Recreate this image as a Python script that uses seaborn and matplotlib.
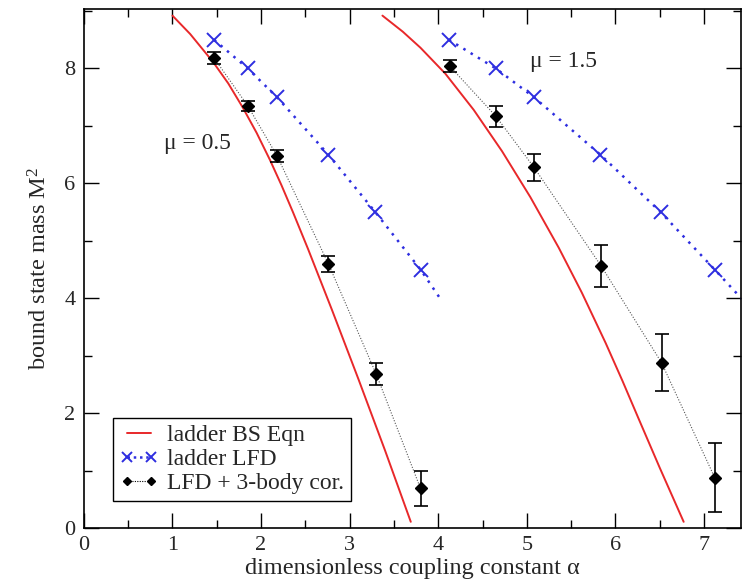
import numpy as np
import matplotlib
matplotlib.use("Agg")
import matplotlib.pyplot as plt
from matplotlib.lines import Line2D
from matplotlib.ticker import MultipleLocator
import seaborn as sns

sns.set_theme(style="ticks")
plt.rcParams['font.family'] = ['Liberation Serif', 'DejaVu Serif']
plt.rcParams['mathtext.fontset'] = 'stix'

# ladder BS equation (solid red)
bs05_x = [1.00, 1.20, 1.46, 1.63, 1.79, 1.95, 2.10, 2.23, 2.36, 2.53, 2.80, 3.10, 3.40, 3.69]
bs05_y = [8.92, 8.60, 8.11, 7.74, 7.33, 6.88, 6.41, 5.97, 5.50, 4.86, 3.80, 2.59, 1.35, 0.11]
bs15_x = [3.37, 3.60, 3.80, 4.08, 4.40, 4.72, 5.04, 5.36, 5.62, 5.89, 6.08, 6.26, 6.50, 6.77]
bs15_y = [8.92, 8.64, 8.36, 7.91, 7.28, 6.56, 5.76, 4.88, 4.10, 3.22, 2.56, 1.91, 1.05, 0.11]

# ladder LFD (blue crosses); last entry is the end of the dotted line
lfd05_x = [1.47, 1.85, 2.18, 2.76, 3.29, 3.80, 4.02]
lfd05_y = [8.5, 8.0, 7.5, 6.5, 5.5, 4.5, 4.0]
lfd15_x = [4.12, 4.65, 5.08, 5.83, 6.51, 7.12, 7.45]
lfd15_y = [8.5, 8.0, 7.5, 6.5, 5.5, 4.5, 3.95]

# LFD + 3-body corrections (black diamonds with error bars)
cor05_x = [1.47, 1.85, 2.18, 2.76, 3.30, 3.80]
cor05_y = [8.18, 7.35, 6.48, 4.60, 2.68, 0.69]
cor05_e = [0.10, 0.09, 0.10, 0.14, 0.19, 0.30]
cor15_x = [4.13, 4.65, 5.08, 5.84, 6.52, 7.12]
cor15_y = [8.04, 7.17, 6.28, 4.56, 2.88, 0.88]
cor15_e = [0.11, 0.18, 0.23, 0.36, 0.50, 0.60]

fig = plt.figure(figsize=(7.42, 5.81), dpi=100)
ax = fig.add_axes([0.113, 0.091, 0.886, 0.893])

red = "#e8282a"
blue = "#2e2ee0"

for bx, by in [(bs05_x, bs05_y), (bs15_x, bs15_y)]:
    sns.lineplot(x=bx, y=by, ax=ax, sort=False, estimator=None,
                 color=red, linewidth=1.4)

for lx, ly in [(lfd05_x, lfd05_y), (lfd15_x, lfd15_y)]:
    sns.lineplot(x=lx, y=ly, ax=ax, sort=False, estimator=None,
                 color=blue, linewidth=1.8, linestyle=(0, (1, 2.4)),
                 marker="x", markersize=10, markeredgewidth=1.4,
                 markeredgecolor=blue, markevery=list(range(6)))

for cx, cy, ce in [(cor05_x, cor05_y, cor05_e), (cor15_x, cor15_y, cor15_e)]:
    sns.lineplot(x=cx, y=cy, ax=ax, sort=False, estimator=None,
                 color="#555555", linewidth=0.8, linestyle=(0, (1, 1.5)))
    ax.errorbar(cx, cy, yerr=ce, fmt="D", color="black", markersize=6.5,
                ecolor="black", elinewidth=1.2, capsize=5, capthick=1.2,
                zorder=5)

ax.text(0.91, 6.70, "μ = 0.5", fontsize=17, ha="left", va="center")
ax.text(5.03, 8.12, "μ = 1.5", fontsize=17, ha="left", va="center")

ax.set_xlim(0, 7.42)
ax.set_ylim(0, 9.03)
ax.xaxis.set_major_locator(MultipleLocator(1))
ax.xaxis.set_minor_locator(MultipleLocator(0.5))
ax.yaxis.set_major_locator(MultipleLocator(2))
ax.yaxis.set_minor_locator(MultipleLocator(1))
ax.tick_params(which="both", direction="in", top=True, right=True,
               labelsize=16, color="black")
ax.tick_params(which="major", length=11, width=1, pad=6)
ax.tick_params(which="minor", length=6, width=1)
for s in ax.spines.values():
    s.set_color("black")
    s.set_linewidth(1.2)

ax.set_xlabel("dimensionless coupling constant α", fontsize=17.5, labelpad=2)
ax.set_ylabel(r"bound state mass $\mathregular{M^2}$", fontsize=17.5, labelpad=9)

handles = [
    Line2D([], [], color=red, linewidth=1.4),
    Line2D([], [], color=blue, linewidth=1.8, linestyle=(0, (1, 1.5)),
           marker="x", markersize=7, markeredgewidth=1.4),
    Line2D([], [], color="black", linewidth=0.8, linestyle=(0, (1, 1.2)),
           marker="D", markersize=4.5),
]
labels = ["ladder BS Eqn", "ladder LFD", "LFD + 3-body cor."]
leg = ax.legend(handles, labels, loc="lower left",
                bbox_to_anchor=(0.044, 0.052), borderaxespad=0,
                fontsize=17, handlelength=1.6, handletextpad=0.4,
                labelspacing=0.1, fancybox=False, framealpha=1,
                edgecolor="black", borderpad=0.3, numpoints=2)
leg.get_frame().set_linewidth(1.0)

fig.savefig("out.png", dpi=100)
